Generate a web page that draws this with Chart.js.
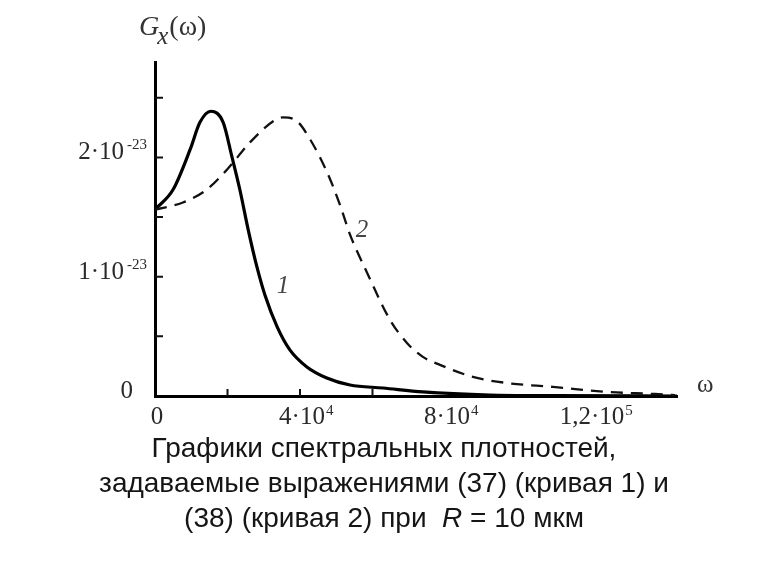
<!DOCTYPE html>
<html>
<head>
<meta charset="utf-8">
<script src="https://cdn.jsdelivr.net/npm/chart.js@4/dist/chart.umd.min.js"></script>
<style>
    body { margin: 0; background: #fff; }
    #wrap { position: relative; width: 768px; height: 576px; }
    #spectrum { position: absolute; left: 0; top: 0; }
    .ytitle { position: absolute; left: 139px; top: 12px; font: 28px 'Liberation Serif', serif; line-height: 28px; color: #333; white-space: nowrap; }
    .ytitle .sub { font-size: 25px; position: relative; top: 9px; margin-left: -2px; margin-right: 1px; }
    .xtitle { position: absolute; left: 697px; top: 371px; font: 25px 'Liberation Serif', serif; line-height: 25px; color: #333; }
    .caption { position: absolute; left: 0; top: 430px; width: 768px; text-align: center; font: 28px 'Liberation Sans', Arial, sans-serif; line-height: 35px; color: #151515; }
</style>
</head>
<body>
<div id="wrap">
    <canvas id="spectrum" width="768" height="576"></canvas>
    <div class="ytitle"><i>G</i><i class="sub">x</i>(ω)</div>
    <div class="xtitle">ω</div>
    <div class="caption">Графики спектральных плотностей,<br>задаваемые выражениями (37) (кривая 1) и<br>(38) (кривая 2) при&nbsp; <i>R</i> = 10 мкм</div>
</div>
<script>
// curve 1: omega and G (in units of 1e-23)
const omega1 = [0, 5000, 9700, 12400, 15400, 18800, 21200, 23400, 25700, 28100, 30300, 33700, 37200, 41900, 47400, 53800, 62900, 73900, 92400, 110000, 144000];
const g1 = [1.563, 1.731, 2.067, 2.294, 2.387, 2.294, 2.008, 1.731, 1.395, 1.084, 0.849, 0.580, 0.387, 0.244, 0.151, 0.092, 0.067, 0.034, 0.008, 0.003, 0];

// curve 2 (dashed)
const omega2 = [0, 7700, 14300, 19900, 26200, 32600, 35300, 39200, 42800, 47500, 51000, 53800, 58500, 64800, 69500, 73900, 78600, 87700, 97100, 109800, 124700, 137900, 143400];
const g2 = [1.563, 1.622, 1.731, 1.899, 2.126, 2.303, 2.336, 2.303, 2.151, 1.874, 1.605, 1.353, 1.034, 0.640, 0.445, 0.328, 0.261, 0.160, 0.109, 0.076, 0.034, 0.017, 0.008];

// tick marks (inward, only the ones visible in the figure) and tick labels
const xTickValues = [20000, 40000, 60000];
const yTickValues = [0.5, 1, 1.5, 2, 2.5];
const yLabelValues = [0, 1, 2];
const yLabelBase = ['0', '1·10', '2·10'];
const yLabelExp = ['', '-23', '-23'];
const xLabelValues = [0, 40000, 80000, 120000];
const xLabelBase = ['0', '4·10', '8·10', '1,2·10'];
const xLabelExp = ['', '4', '4', '5'];

// curve numbers placed near the lines
const curveTags = ['1', '2'];
const curveTagX = [35300, 57100];
const curveTagY = [0.93, 1.40];

const serif = '"Liberation Serif", "Times New Roman", serif';

const decor = {
    id: 'decor',
    beforeDatasetsDraw(chart) {
        const { ctx, chartArea, scales: { x, y } } = chart;
        ctx.save();
        ctx.strokeStyle = '#111';
        ctx.lineWidth = 2;
        ctx.beginPath();
        yTickValues.forEach(v => {
            const py = y.getPixelForValue(v);
            ctx.moveTo(chartArea.left, py);
            ctx.lineTo(chartArea.left + 8, py);
        });
        xTickValues.forEach(v => {
            const px = x.getPixelForValue(v);
            ctx.moveTo(px, chartArea.bottom);
            ctx.lineTo(px, chartArea.bottom - 7);
        });
        ctx.stroke();
        ctx.restore();
    },
    afterDraw(chart) {
        const { ctx, scales: { x, y } } = chart;
        ctx.save();
        ctx.fillStyle = '#2a2a2a';
        ctx.textBaseline = 'alphabetic';

        // y labels with superscripts
        yLabelValues.forEach((v, i) => {
            const py = y.getPixelForValue(v);
            const right = yLabelExp[i] ? 124 : 133;
            ctx.font = '25px ' + serif;
            ctx.textAlign = 'right';
            ctx.fillText(yLabelBase[i], right, py + 2);
            if (yLabelExp[i]) {
                ctx.font = '15px ' + serif;
                ctx.textAlign = 'left';
                ctx.fillText(yLabelExp[i], right + 3, py - 8);
            }
        });

        // x labels
        xLabelValues.forEach((v, i) => {
            const px = x.getPixelForValue(v);
            ctx.font = '25px ' + serif;
            ctx.textAlign = 'center';
            ctx.fillText(xLabelBase[i], px + 2, 424);
            if (xLabelExp[i]) {
                const w = ctx.measureText(xLabelBase[i]).width;
                ctx.font = '15px ' + serif;
                ctx.textAlign = 'left';
                ctx.fillText(xLabelExp[i], px + 2 + w / 2 + 1, 415);
            }
        });

        // curve numbers
        ctx.font = 'italic 25px ' + serif;
        ctx.fillStyle = '#444';
        ctx.textAlign = 'center';
        curveTags.forEach((tag, i) => {
            ctx.fillText(tag, x.getPixelForValue(curveTagX[i]), y.getPixelForValue(curveTagY[i]) + 8);
        });
        ctx.restore();
    }
};

document.addEventListener('DOMContentLoaded', () => {
    const ctx = document.getElementById('spectrum').getContext('2d');

    new Chart(ctx, {
        type: 'line',
        data: {
            datasets: [
                {
                    label: '2',
                    data: omega2.map((w, i) => ({ x: w, y: g2[i] })),
                    borderColor: '#111',
                    borderWidth: 2.3,
                    borderDash: [12, 8],
                    pointRadius: 0,
                    cubicInterpolationMode: 'monotone',
                    fill: false
                },
                {
                    label: '1',
                    data: omega1.map((w, i) => ({ x: w, y: g1[i] })),
                    borderColor: '#000',
                    borderWidth: 3.2,
                    pointRadius: 0,
                    cubicInterpolationMode: 'monotone',
                    fill: false
                }
            ]
        },
        options: {
            responsive: false,
            animation: false,
            layout: {
                padding: { top: 62, right: 91, left: 0, bottom: 0 }
            },
            plugins: {
                legend: { display: false },
                tooltip: { enabled: false }
            },
            scales: {
                x: {
                    type: 'linear',
                    min: 0,
                    max: 144000,
                    ticks: { stepSize: 20000, display: false },
                    grid: { display: false },
                    border: { display: true, color: '#000', width: 3 },
                    afterFit: scale => { scale.height = 180; }
                },
                y: {
                    min: 0,
                    max: 2.8,
                    ticks: { stepSize: 0.5, display: false },
                    grid: { display: false },
                    border: { display: true, color: '#000', width: 3 },
                    afterFit: scale => { scale.width = 155; }
                }
            }
        },
        plugins: [decor]
    });
});
</script>
</body>
</html>
